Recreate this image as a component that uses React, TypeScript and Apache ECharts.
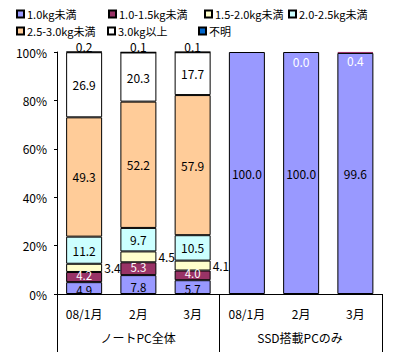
import React, { useEffect, useRef } from "react";
import * as echarts from "echarts";

const categories = ["08/1月", "2月", "3月", "08/1月", "2月", "3月"];
const groups = ["ノートPC全体", "SSD搭載PCのみ"];
const yTicks = [0, 20, 40, 60, 80, 100];

const seriesNames = ["1.0kg未満", "1.0-1.5kg未満", "1.5-2.0kg未満", "2.0-2.5kg未満", "2.5-3.0kg未満", "3.0kg以上", "不明"];
const under10 = [4.9, 7.8, 5.7, 100.0, 100.0, 99.6];
const w10to15 = [4.2, 5.3, 4.0, null, 0.0, 0.4];
const w15to20 = [3.4, 4.5, 4.1, null, null, null];
const w20to25 = [11.2, 9.7, 10.5, null, null, null];
const w25to30 = [49.3, 52.2, 57.9, null, null, null];
const over30 = [26.9, 20.3, 17.7, null, null, null];
const unknown = [0.2, 0.1, 0.1, null, null, null];

const colors = ["#9999FF", "#993366", "#FFFFCC", "#CCFFFF", "#FFCC99", "#FFFFFF", "#0066CC"];
const FONT = "'Noto Sans CJK JP', 'Noto Sans', sans-serif";

export default function App() {
  const ref = useRef<HTMLDivElement>(null);
  useEffect(() => {
    if (!ref.current) return;
    const chart = echarts.init(ref.current, undefined, { renderer: "svg" });
    const fmt = (p: any) => (p.value == null ? "" : Number(p.value).toFixed(1));
    const values = [under10, w10to15, w15to20, w20to25, w25to30, over30, unknown];
    const labelCfg: any[] = [
      { show: true, position: "inside", color: "#000", offset: [0, 2], fontSize: 11.5, lineHeight: 10 },
      { show: true, position: "inside", color: "#fff", offset: [0, -2], fontSize: 11.5, lineHeight: 10 },
      { show: true, position: "right", distance: 2, color: "#000" },
      { show: true, position: "inside", color: "#000" },
      { show: true, position: "inside", color: "#000" },
      { show: true, position: "inside", color: "#000" },
      { show: true, position: "top", distance: 0, color: "#000" },
    ];
    const series = values.map((vals, si) => ({
      name: seriesNames[si],
      type: "bar",
      stack: "total",
      barWidth: 36,
      itemStyle: { color: colors[si], borderColor: "#000", borderWidth: 1 },
      label: { formatter: fmt, fontSize: 12, lineHeight: 11, fontFamily: FONT, ...labelCfg[si] },
      data: vals.map((v, ci) => {
        if (ci >= 3 && v != null && (si === 0 || si === 1)) {
          if (si === 0) return { value: v, label: { offset: [0, 0], fontSize: 12 } };
          return { value: v, label: { position: "insideTop", distance: 4, offset: [0, 0], fontSize: 12 }, itemStyle: { borderColor: colors[1], borderWidth: v > 0 ? 1 : 0 } };
        }
        return v;
      }),
    }));
    const legendPos = [
      [16, 8], [108, 8], [204, 8], [288, 8],
      [16, 25], [107, 25], [198, 25],
    ];
    const legends = seriesNames.map((n, i) => ({
      data: [n],
      left: legendPos[i][0],
      top: legendPos[i][1],
      padding: 0,
      itemWidth: 7,
      itemHeight: 7,
      icon: "rect",
      selectedMode: false,
      textStyle: { fontSize: 11, lineHeight: 12, fontFamily: FONT, color: "#000", padding: [0, 0, 0, -2] },
    }));
    const axisBottom = 294;
    const stroke = { stroke: "#000", lineWidth: 1 };
    chart.setOption({
      animation: false,
      textStyle: { fontFamily: FONT },
      legend: legends,
      grid: { left: 57, right: 17.5, top: 52, bottom: 352 - axisBottom },
      xAxis: {
        type: "category",
        data: categories,
        axisLine: { show: true, lineStyle: { color: "#000", width: 1 } },
        axisTick: { show: false },
        axisLabel: { color: "#000", fontSize: 12, fontFamily: FONT, margin: 13 },
      },
      yAxis: {
        type: "value",
        min: yTicks[0],
        max: yTicks[yTicks.length - 1],
        interval: 20,
        axisLine: { show: true, lineStyle: { color: "#000", width: 1 } },
        axisTick: { show: true, length: 3, lineStyle: { color: "#000" } },
        axisLabel: { color: "#000", fontSize: 12, fontFamily: FONT, formatter: "{value}%", margin: 10 },
        splitLine: { show: false },
      },
      graphic: [
        { type: "line", shape: { x1: 57.5, y1: axisBottom, x2: 57.5, y2: 352 }, style: stroke, silent: true },
        { type: "line", shape: { x1: 219.5, y1: axisBottom, x2: 219.5, y2: 352 }, style: stroke, silent: true },
        { type: "line", shape: { x1: 382.5, y1: axisBottom, x2: 382.5, y2: 352 }, style: stroke, silent: true },
        { type: "text", x: 138, y: 337, style: { text: groups[0], fill: "#000", fontSize: 12, fontFamily: FONT, textAlign: "center", textVerticalAlign: "middle" } },
        { type: "text", x: 300, y: 337, style: { text: groups[1], fill: "#000", fontSize: 12, fontFamily: FONT, textAlign: "center", textVerticalAlign: "middle" } },
      ],
      series,
    });
    return () => chart.dispose();
  }, []);
  return <div ref={ref} style={{ width: 400, height: 352, position: "absolute", left: 0, top: 0, background: "#fff" }} />;
}
